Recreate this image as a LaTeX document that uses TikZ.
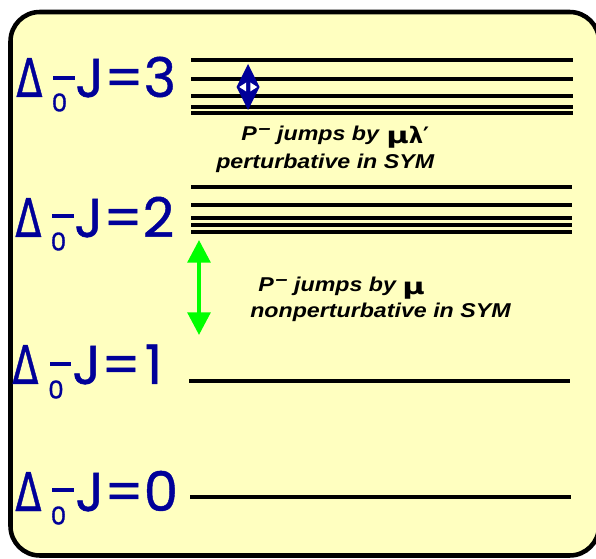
\documentclass[tikz,border=0pt]{standalone}
\usepackage{fontspec}
\setmainfont{Liberation Sans}
\newfontfamily\annfont[FakeStretch=1.16]{Liberation Sans Bold Italic}
\newfontfamily\lblfont[FakeBold=0.8]{Poppins}
\newfontfamily\subfont[FakeBold=1.2]{Poppins}
\newfontfamily\grkfont[FakeBold=0.9]{DejaVu Sans}
\newfontfamily\grkbold{DejaVu Sans Bold}
\usetikzlibrary{arrows.meta}
\definecolor{bgyellow}{RGB}{255,255,192}
\definecolor{lblblue}{RGB}{0,0,153}
\definecolor{arrgreen}{RGB}{0,255,0}
\tikzset{
  frame/.style={draw=black, line width=3.4pt, fill=bgyellow, rounded corners=22pt},
  level/.style={draw=black, line width=3pt},
  biglbl/.style={inner sep=0pt, anchor=base west, text=lblblue, font=\lblfont\fontsize{41pt}{48pt}\selectfont},
  bigdelta/.style={inner sep=0pt, anchor=base west, text=lblblue, font=\grkfont\fontsize{40pt}{48pt}\selectfont},
  sublbl/.style={inner sep=0pt, anchor=center, text=lblblue, font=\subfont\fontsize{18.5pt}{20pt}\selectfont},
  minusbar/.style={draw=lblblue, line width=3.3pt},
  ann/.style={inner sep=0pt, anchor=base west, font=\annfont\fontsize{15pt}{18pt}\selectfont},
  grk/.style={inner sep=0pt, anchor=base west, font=\grkbold\fontsize{17pt}{20pt}\selectfont},
  greenarrow/.style={draw=arrgreen, line width=3pt, {Triangle[length=17pt,width=17pt]}-{Triangle[length=17pt,width=17pt]}},
}
\newcommand{\supminus}{\kern1.5pt\raisebox{5.2pt}{\fontsize{14pt}{14pt}\selectfont\textendash}}
\begin{document}
\begin{tikzpicture}[x=0.75pt,y=-0.75pt]
\useasboundingbox (0,0) rectangle (596,559);
\clip (0,0) rectangle (596,559);
% frame
\draw[frame] (10.5,12) rectangle (599,555.5);

% level lines
\foreach \yy in {60,79,96,107,112.7}{\draw[level] (191,\yy) -- (573,\yy);}
\foreach \yy in {187,205,218,225,232.5}{\draw[level] (191,\yy) -- (572,\yy);}
\draw[level] (189,380.7) -- (570,380.7);
\draw[level] (190,497) -- (571,497);

% labels
\node[bigdelta] (d3) at (16,97) {\scalebox{0.72}[1]{Δ}};
\node[sublbl] (s3) at (59.5,102.5) {0};
\draw[minusbar] (53,78) -- (75,78);
\node[biglbl] (j3) at (75,97) {J=3};

\node[bigdelta] (d2) at (15,237) {\scalebox{0.72}[1]{Δ}};
\node[sublbl] (s2) at (58.5,241.5) {0};
\draw[minusbar] (52,216) -- (74,216);
\node[biglbl] (j2) at (74,237) {J=2};

\node[bigdelta] (d1) at (12,384) {\scalebox{0.72}[1]{Δ}};
\node[sublbl] (s1) at (56,389.5) {0};
\draw[minusbar] (50,364) -- (71,364);
\node[biglbl] (j1) at (72,384) {J=\kern3pt1};

\node[bigdelta] (d0) at (15,511) {\scalebox{0.72}[1]{Δ}};
\node[sublbl] (s0) at (58.5,515.5) {0};
\draw[minusbar] (52,490) -- (74,490);
\node[biglbl] (j0) at (75,511) {J=0};

% blue double arrow
\fill[lblblue] (248,64) -- (259.5,87) -- (248,110) -- (236.5,87) -- cycle;
\fill[white] (239.3,87) -- (246.2,82.5) -- (246.2,91.5) -- cycle;
\fill[white] (257.2,87) -- (250.3,82.5) -- (250.3,91.5) -- cycle;

% green double arrow
\coordinate (g1) at (199,240);
\coordinate (g2) at (199,335);
\draw[greenarrow] (g1) -- (g2);

% annotations
\node[ann] (a1) at (241,141) {P\supminus\ jumps by};
\node[grk] (m1) at (386,144) {\scalebox{1.35}[1]{μ}λ′};
\node[ann] (a2) at (216,169) {perturbative in SYM};
\node[ann] (b1) at (258,292) {P\supminus\ jumps by};
\node[grk] (m2) at (402,295) {\scalebox{1.35}[1]{μ}};
\node[ann] (b2) at (250,318) {nonperturbative in SYM};
\end{tikzpicture}
\end{document}
